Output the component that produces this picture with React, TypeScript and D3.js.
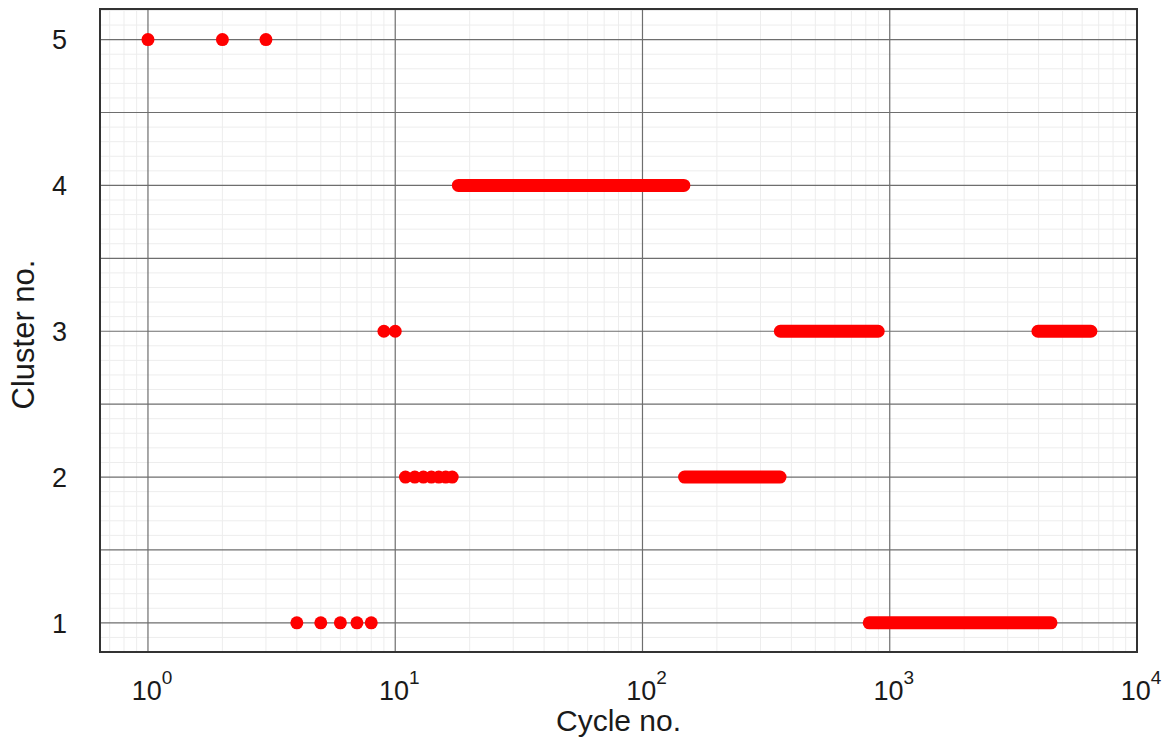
import React from "react";
import * as d3 from "d3";

// individual cycles (early, distinguishable dots)
const singleCycles = [1, 2, 3, 4, 5, 6, 7, 8, 9, 10, 11, 12, 13, 14, 15, 16, 17];
const singleClusters = [5, 5, 5, 1, 1, 1, 1, 1, 3, 3, 2, 2, 2, 2, 2, 2, 2];

// consecutive runs of cycles assigned to one cluster (dense, merged dots)
const runStarts = [18, 148, 361, 826, 3975];
const runEnds = [147, 360, 898, 4490, 6510];
const runClusters = [4, 2, 3, 1, 3];

const yTicks = [1, 2, 3, 4, 5];
const xTickExps = [0, 1, 2, 3, 4];

const W = 1164;
const H = 737;
const L = 100, R = 1137, T = 9, B = 652;
const FONT = "'Liberation Sans', Arial, Helvetica, sans-serif";

export default function App() {
  const x = d3.scaleLog().domain([Math.pow(10, -0.194), 1e4]).range([L, R]);
  const y = d3.scaleLinear().domain([0.8, 5.21]).range([B, T]);

  const minorX: number[] = [];
  for (let e = -1; e < 4; e++) {
    for (let m = 2; m <= 9; m++) {
      const v = m * Math.pow(10, e);
      if (v >= x.domain()[0] && v <= 1e4) minorX.push(v);
    }
  }
  const minorY: number[] = [];
  for (let i = 8; i <= 52; i++) {
    if (i % 5 !== 0) minorY.push(i / 10);
  }
  const majorY: number[] = [];
  for (let i = 2; i <= 10; i++) majorY.push(i / 2);

  const r = 6.5;
  return (
    <svg width={W} height={H} style={{ position: "absolute", left: 0, top: 0, background: "#fff" }}>
      <rect x={0} y={0} width={W} height={H} fill="#fff" />
      <g>
        {minorX.map((v, i) => (
          <line key={"mx" + i} x1={x(v)} x2={x(v)} y1={T} y2={B} stroke="#ededed" strokeWidth={1} />
        ))}
        {minorY.map((v, i) => (
          <line key={"my" + i} x1={L} x2={R} y1={y(v)} y2={y(v)} stroke="#ededed" strokeWidth={1} />
        ))}
        {xTickExps.map((e) => (
          <line key={"Mx" + e} x1={x(Math.pow(10, e))} x2={x(Math.pow(10, e))} y1={T} y2={B} stroke="#6e6e6e" strokeWidth={1.2} />
        ))}
        {majorY.map((v, i) => (
          <line key={"My" + i} x1={L} x2={R} y1={y(v)} y2={y(v)} stroke="#6e6e6e" strokeWidth={1.2} />
        ))}
      </g>
      <g>
        {runStarts.map((s, i) => (
          <line
            key={"run" + i}
            x1={x(s)}
            x2={x(runEnds[i])}
            y1={y(runClusters[i])}
            y2={y(runClusters[i])}
            stroke="#ff0000"
            strokeWidth={2 * r}
            strokeLinecap="round"
          />
        ))}
        {singleCycles.map((c, i) => (
          <circle key={"pt" + i} cx={x(c)} cy={y(singleClusters[i])} r={r} fill="#ff0000" />
        ))}
      </g>
      <rect x={L} y={T} width={R - L} height={B - T} fill="none" stroke="#333" strokeWidth={2} />
      <g fontFamily={FONT} fill="#1a1a1a">
        {yTicks.map((t) => (
          <text key={"yt" + t} x={67} y={y(t)} dy="0.36em" textAnchor="end" fontSize={27}>
            {t}
          </text>
        ))}
        {xTickExps.map((e) => (
          <text key={"xt" + e} x={x(Math.pow(10, e)) + 4} y={700} textAnchor="middle" fontSize={27}>
            10
            <tspan dy={-16} fontSize={19}>{e}</tspan>
          </text>
        ))}
        <text x={(L + R) / 2} y={731} textAnchor="middle" fontSize={30}>
          Cycle no.
        </text>
        <text transform={`translate(34, ${(T + B) / 2 + 4}) rotate(-90)`} textAnchor="middle" fontSize={31}>
          Cluster no.
        </text>
      </g>
    </svg>
  );
}
